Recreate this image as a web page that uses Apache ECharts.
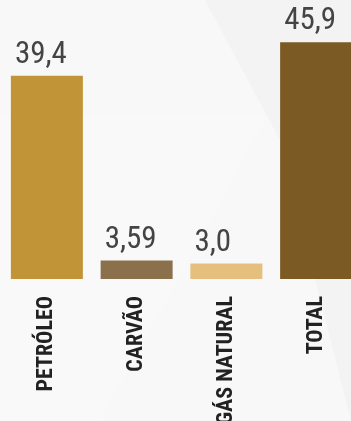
<!DOCTYPE html>
<html>
<head>
<meta charset="utf-8">
<script src="https://cdn.jsdelivr.net/npm/echarts@6/dist/echarts.min.js"></script>
<style>
  * { margin: 0; padding: 0; }
  body { background: #f8f8f8; }
  #chart { width: 351px; height: 421px; }
</style>
</head>
<body>
<div id="chart"></div>
<script>
const categories = ["PETRÓLEO", "CARVÃO", "GÁS NATURAL", "TOTAL"];
const values = [39.4, 3.59, 3.0, 45.9];
const valueLabels = ["39,4", "3,59", "3,0", "45,9"];
const barColors = ["#c19438", "#8a714c", "#e4bf7e", "#7b5a24"];

const myChart = echarts.init(document.getElementById("chart"), null, { renderer: "canvas" });

const option = {
  backgroundColor: "#f8f8f8",
  animation: false,
  // faint background shapes
  graphic: [
    {
      type: "polygon",
      silent: true,
      z: -10,
      shape: { points: [[205, 0], [351, 0], [351, 421], [280, 140]] },
      style: { fill: "#f3f3f3" }
    },
    {
      type: "polygon",
      silent: true,
      z: -10,
      shape: { points: [[180, 117], [267, 117], [100, 421], [0, 421], [0, 117]] },
      style: { fill: "#f9f9f9" }
    }
  ],
  grid: {
    left: 2,
    width: 359,
    top: 21,
    bottom: 142,
    containLabel: false,
    outerBoundsMode: "none"
  },
  xAxis: {
    type: "category",
    data: categories,
    axisLine: { show: false },
    axisTick: { show: false },
    axisLabel: {
      rotate: 90,
      margin: 17,
      interval: 0,
      fontFamily: "Roboto Condensed",
      fontWeight: "bold",
      fontSize: 22,
      color: "#222"
    }
  },
  yAxis: {
    type: "value",
    min: 0,
    max: 50,
    show: false,
    splitLine: { show: false }
  },
  series: [
    {
      type: "bar",
      barWidth: 72,
      data: values.map((v, i) => ({ value: v, itemStyle: { color: barColors[i] } })),
      label: {
        show: true,
        position: [4, -5],
        align: "left",
        verticalAlign: "bottom",
        fontFamily: "Roboto Condensed",
        fontSize: 31,
        color: "#444",
        formatter: (p) => valueLabels[p.dataIndex]
      }
    }
  ]
};

myChart.setOption(option);
window.addEventListener("resize", myChart.resize);
</script>
</body>
</html>
